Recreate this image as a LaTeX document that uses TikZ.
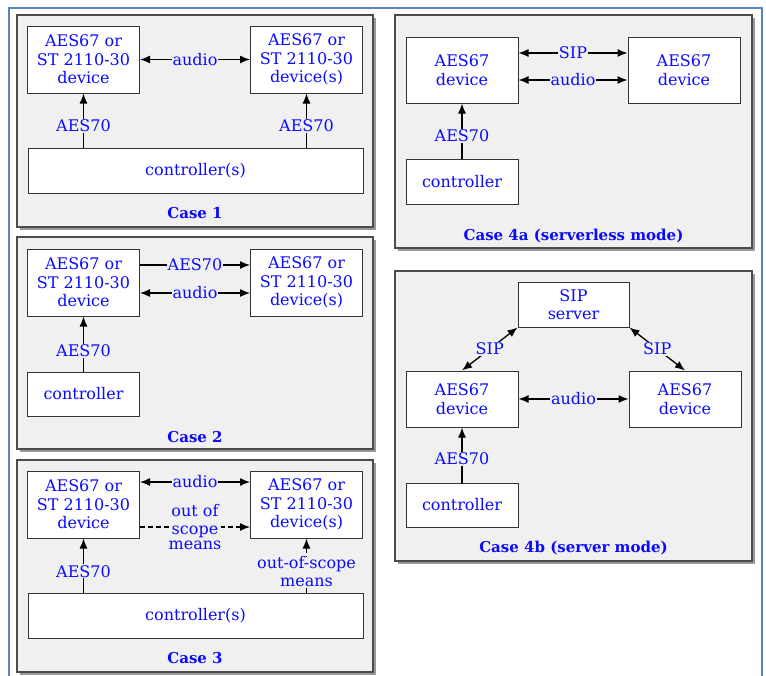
\documentclass[tikz,border=0pt]{standalone}
\usepackage{fontspec}
\setmainfont{DejaVu Serif}
\usetikzlibrary{arrows.meta,shadows}
\definecolor{panelbg}{HTML}{F0F0F0}
\definecolor{txtblue}{RGB}{10,10,255}
\definecolor{framebl}{HTML}{5A85C2}
\tikzset{
  panel/.style={draw=black!70, line width=1.1pt, fill=panelbg, inner sep=0pt,
    drop shadow={shadow xshift=2.5pt, shadow yshift=-2.5pt, fill=black!50, opacity=0.8}},
  dev/.style={draw=black!80, line width=1pt, fill=white, align=center, inner sep=0pt,
    text=txtblue, font=\fontsize{16}{18.5}\selectfont, minimum width=112pt, minimum height=67pt},
  lbl/.style={fill=panelbg, inner sep=1pt, align=center, text=txtblue,
    font=\fontsize{16}{18}\selectfont},
  casecap/.style={text=txtblue, font=\fontsize{15}{18}\selectfont\bfseries, inner sep=0pt},
  arr/.style={line width=1.3pt, -{Latex[length=10pt,width=8pt]}},
  darr/.style={line width=1.3pt, {Latex[length=10pt,width=8pt]}-{Latex[length=10pt,width=8pt]}},
  dsh/.style={dash pattern=on 5pt off 3pt},
}
\begin{document}
\begin{tikzpicture}[x=1pt, y=-1pt]
\useasboundingbox (0,0) rectangle (766,675);
\fill[white] (0,0) rectangle (766,675);
\draw[framebl, line width=2pt] (9,690) -- (9,8) -- (762,8) -- (762,690);

% ---------- Case 1
\node[panel, minimum width=356pt, minimum height=212pt] (p1) at (195,121) {};
\node[dev] (c1a) at (83.5,59.5) {AES67 or\\ST 2110-30\\device};
\node[dev] (c1b) at (306.5,59.5) {AES67 or\\ST 2110-30\\device(s)};
\node[dev, minimum width=335pt, minimum height=45pt] (c1c) at (195.5,170.5) {controller(s)};
\node[casecap] (k1) at (195,213) {Case 1};
\draw[darr] (c1a.east) -- (c1b.west) node[lbl, midway] {audio};
\draw[arr] (c1c.north -| c1a.south) -- (c1a.south) node[lbl, pos=0.4] {AES70};
\draw[arr] (c1c.north -| c1b.south) -- (c1b.south) node[lbl, pos=0.4] {AES70};

% ---------- Case 2
\node[panel, minimum width=356pt, minimum height=212pt] (p2) at (195,343) {};
\node[dev] (c2a) at (83.5,282.5) {AES67 or\\ST 2110-30\\device};
\node[dev] (c2b) at (306.5,282.5) {AES67 or\\ST 2110-30\\device(s)};
\node[dev, minimum height=44pt] (c2c) at (83.5,394) {controller};
\node[casecap] (k2) at (195,437) {Case 2};
\draw[arr] ([yshift=17.5pt]c2a.east) -- ([yshift=17.5pt]c2b.west) node[lbl, midway] {AES70};
\draw[darr] ([yshift=-10.5pt]c2a.east) -- ([yshift=-10.5pt]c2b.west) node[lbl, midway] {audio};
\draw[arr] (c2c.north) -- (c2a.south) node[lbl, pos=0.38] {AES70};

% ---------- Case 3
\node[panel, minimum width=356pt, minimum height=212pt] (p3) at (195,566) {};
\node[dev] (c3a) at (83.5,504.5) {AES67 or\\ST 2110-30\\device};
\node[dev] (c3b) at (306.5,504.5) {AES67 or\\ST 2110-30\\device(s)};
\node[dev, minimum width=335pt, minimum height=45pt] (c3c) at (195.5,615.5) {controller(s)};
\node[casecap] (k3) at (195,658) {Case 3};
\draw[darr] ([yshift=22.5pt]c3a.east) -- ([yshift=22.5pt]c3b.west) node[lbl, midway] {audio};
\draw[arr, dsh] ([yshift=-22.5pt]c3a.east) -- ([yshift=-22.5pt]c3b.west)
  node[lbl, midway, fill=none, inner sep=0pt] (m1) {\colorbox{panelbg}{\strut out of}\\[-3pt]\colorbox{panelbg}{scope}\\[-3pt]\colorbox{panelbg}{means}};
\draw[arr] (c3c.north -| c3a.south) -- (c3a.south) node[lbl, pos=0.39] {AES70};
\draw[arr, dsh] (c3c.north -| c3b.south) -- (c3b.south) node[lbl, pos=0.38, inner sep=0pt] {out-of-scope\\means};

% ---------- Case 4a
\node[panel, minimum width=357pt, minimum height=233pt] (p4) at (573.5,131.5) {};
\node[dev, minimum height=66pt] (c4a) at (462,70) {AES67\\device};
\node[dev, minimum height=66pt] (c4b) at (684,70) {AES67\\device};
\node[dev, minimum height=45pt] (c4c) at (462,181.5) {controller};
\node[casecap] (k4) at (573.5,236) {Case 4a (serverless mode)};
\draw[darr] ([yshift=17pt]c4a.east) -- ([yshift=17pt]c4b.west) node[lbl, midway] {SIP};
\draw[darr] ([yshift=-10pt]c4a.east) -- ([yshift=-10pt]c4b.west) node[lbl, midway] {audio};
\draw[arr] (c4c.north) -- (c4a.south) node[lbl, pos=0.41] {AES70};

% ---------- Case 4b
\node[panel, minimum width=357pt, minimum height=290pt] (p5) at (573.5,416) {};
\node[dev, minimum width=111pt, minimum height=45pt] (s5) at (573.5,304.5) {SIP\\server};
\node[dev, minimum height=56pt] (d5a) at (462,399) {AES67\\device};
\node[dev, minimum height=56pt] (d5b) at (685,399) {AES67\\device};
\node[dev, minimum height=44pt] (c5c) at (462,505) {controller};
\node[casecap] (k5) at (573.5,548) {Case 4b (server mode)};
\draw[darr] (d5a.north) -- (s5.south west) node[lbl, midway] {SIP};
\draw[darr] (s5.south east) -- (d5b.north) node[lbl, midway] {SIP};
\draw[darr] (d5a.east) -- (d5b.west) node[lbl, midway] {audio};
\draw[arr] (c5c.north) -- (d5a.south) node[lbl, pos=0.43] {AES70};
\end{tikzpicture}
\end{document}
